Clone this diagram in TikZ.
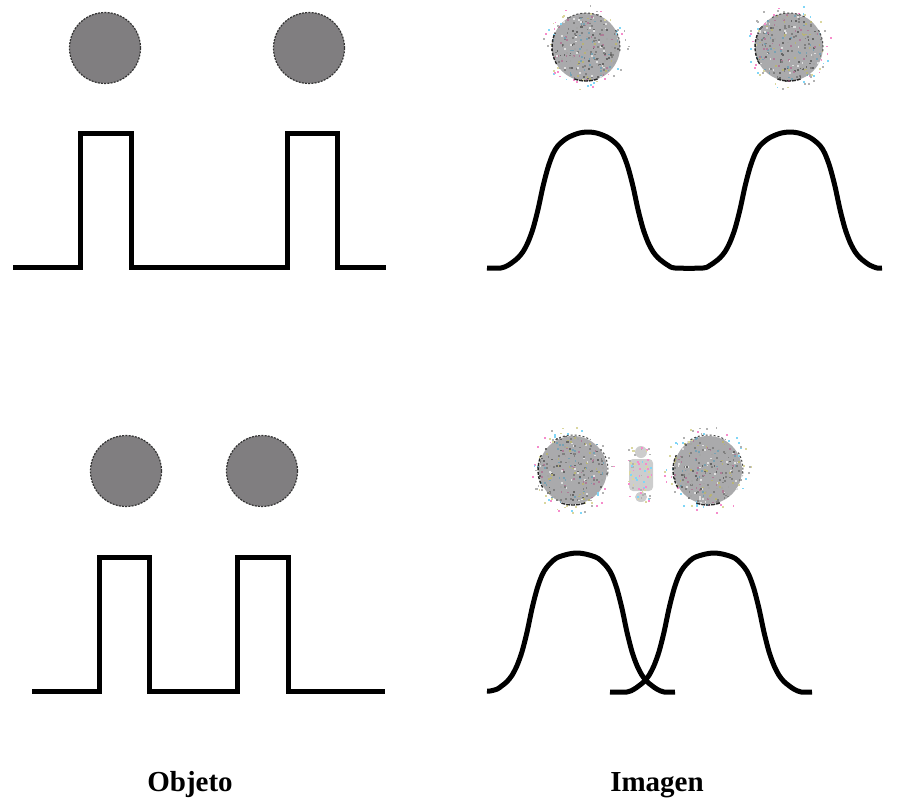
\documentclass[tikz,border=0pt]{standalone}
\usepackage{fontspec}
\setmainfont{Liberation Serif}
\definecolor{ballgray}{RGB}{128,126,128}
\definecolor{blurgray}{RGB}{170,170,172}
\definecolor{blobgray}{RGB}{205,205,205}
\pgfmathdeclarerandomlist{innercols}{{black!60}{gray}{black!50}{gray!70}{magenta!30!gray}{cyan!35!gray}{yellow!35!gray}{white!75!gray}}
\pgfmathdeclarerandomlist{outercols}{{magenta!45!white}{cyan!50!white}{yellow!45!gray!60}{gray!60}}
\newcommand\speckleball[3]{%
  \foreach \i in {1,...,230}{%
    \pgfmathsetmacro\aa{rnd*360}%
    \pgfmathsetmacro\rr{#3*sqrt(rnd)}%
    \pgfmathrandomitem{\cc}{innercols}%
    \fill[fill=\cc] ({#1+\rr*cos(\aa)-0.9},{#2+\rr*sin(\aa)-0.9}) rectangle ++(1.8,1.8);
  }%
  \foreach \i in {1,...,55}{%
    \pgfmathsetmacro\aa{rnd*360}%
    \pgfmathsetmacro\rr{#3-1+rnd*10}%
    \pgfmathrandomitem{\cc}{outercols}%
    \fill[fill=\cc] ({#1+\rr*cos(\aa)-0.9},{#2+\rr*sin(\aa)-0.9}) rectangle ++(1.8,1.8);
  }%
  \draw[black!85, line width=1.4pt, dash pattern=on 3pt off 1.5pt]
    ({#1+#3*cos(150)},{#2+#3*sin(150)}) arc[start angle=150, end angle=205, radius=#3];
  \draw[black!85, line width=1.4pt, dash pattern=on 4pt off 1pt]
    ({#1+#3*cos(70)},{#2+#3*sin(70)}) arc[start angle=70, end angle=110, radius=#3];
  \draw[black!70, line width=1pt, dash pattern=on 2pt off 2pt]
    ({#1+#3*cos(240)},{#2+#3*sin(240)}) arc[start angle=240, end angle=300, radius=#3];
  \draw[black!70, line width=1pt, dash pattern=on 2pt off 2pt]
    ({#1+#3*cos(330)},{#2+#3*sin(330)}) arc[start angle=330, end angle=370, radius=#3];
}
\begin{document}
\begin{tikzpicture}[x=1pt,y=-1pt,
  wave/.style={line width=5pt, line join=miter},
  blurwave/.style={line width=5pt, line join=round},
  solidball/.style={circle, minimum size=71pt, inner sep=0pt, fill=ballgray,
    draw=black!80, line width=1.2pt, dash pattern=on 2pt off 1.2pt},
  blurball/.style={circle, minimum size=68pt, inner sep=0pt, fill=blurgray},
  captext/.style={font=\fontsize{29}{30}\selectfont\bfseries, anchor=base, inner sep=0pt}]
\useasboundingbox (0,0) rectangle (907,800);
\pgfmathsetseed{7}

% ---------- Object, top ----------
\node[solidball] (ot1) at (105,48) {};
\node[solidball] (ot2) at (309,48) {};
\draw[wave] (13,267) -- (80,267) -- (80,133) -- (131,133) -- (131,267)
  -- (287,267) -- (287,133) -- (337,133) -- (337,267) -- (386,267);

% ---------- Object, bottom ----------
\node[solidball] (ob1) at (126,471) {};
\node[solidball] (ob2) at (262,471) {};
\draw[wave] (32,691) -- (99,691) -- (99,557) -- (149,557) -- (149,691)
  -- (237,691) -- (237,557) -- (288,557) -- (288,691) -- (385,691);

% ---------- Image, top ----------
\node[blurball] (it1) at (586,47) {};
\speckleball{586}{47}{34}
\node[blurball] (it2) at (789,47) {};
\speckleball{789}{47}{34}
\draw[blurwave] plot[smooth, tension=0.5] coordinates {
  (487,268) (501,268) (508,265.3) (513,261.9) (518,257.8) (523,251.7) (528,242.2)
  (533,228.6) (538,209.5) (543,186.4) (548,167.4) (553,153.8) (558,145.6) (567,138.1)
  (578,133.4) (588,132) (598,133.4) (609,138.1) (618,145.6) (623,153.8) (628,167.4)
  (633,186.4) (638,209.5) (643,228.6) (648,242.2) (653,251.7) (658,257.8) (663,261.9)
  (668,265.3) (675,268) (703,268) (710,265.3) (715,261.9) (720,257.8) (725,251.7)
  (730,242.2) (735,228.6) (740,209.5) (745,186.4) (750,167.4) (755,153.8) (760,145.6)
  (769,138.1) (780,133.4) (790,132) (800,133.4) (811,138.1) (820,145.6) (825,153.8)
  (830,167.4) (835,186.4) (840,209.5) (845,228.6) (850,242.2) (855,251.7) (860,257.8)
  (865,261.9) (870,265.3) (877,268) (882,268)};

% ---------- Image, bottom ----------
\node[blurball] (ib1) at (573,470) {};
\speckleball{573}{470}{35}
\node[blurball] (ib2) at (708,470) {};
\speckleball{708}{470}{35}
% central faint blob
\fill[blobgray, rounded corners=4pt] (629,459) rectangle (653,491);
\fill[blobgray] (641,452) ellipse[x radius=6, y radius=6];
\fill[blobgray] (641,497) ellipse[x radius=6, y radius=5];
\foreach \i in {1,...,70}{%
  \pgfmathsetmacro\px{629+rnd*24}%
  \pgfmathsetmacro\py{447+rnd*55}%
  \pgfmathrandomitem{\cc}{outercols}%
  \fill[fill=\cc] ({\px-0.9},{\py-0.9}) rectangle ++(1.8,1.8);
}
\draw[blurwave] plot[smooth, tension=0.5] coordinates {
  (487,691) (490,691) (497,689.2) (502,685.7) (507,681.6) (512,675.3) (517,665.6)
  (522,651.7) (527,632.2) (532,608.6) (537,589.1) (542,575.2) (547,566.9) (556,558.3)
  (567,554.4) (577,553) (587,554.4) (598,558.3) (607,566.9) (612,575.2) (617,589.1)
  (622,608.6) (627,632.2) (632,651.7) (637,665.6) (642,675.3) (647,681.6) (652,685.7)
  (657,689.2) (664,692) (675,692)};
\draw[blurwave] plot[smooth, tension=0.5] coordinates {
  (610,692) (627,692) (634,689.2) (639,685.7) (644,681.6) (649,675.3) (654,665.6)
  (659,651.7) (664,632.2) (669,608.6) (674,589.1) (679,575.2) (684,566.9) (693,558.3)
  (704,554.4) (714,553) (724,554.4) (735,558.3) (744,566.9) (749,575.2) (754,589.1)
  (759,608.6) (764,632.2) (769,651.7) (774,665.6) (779,675.3) (784,681.6) (789,685.7)
  (794,689.2) (801,692) (812,692)};

% ---------- captions ----------
\node[captext] (objeto) at (190,791) {Objeto};
\node[captext] (imagen) at (657,791) {Imagen};
\end{tikzpicture}
\end{document}
